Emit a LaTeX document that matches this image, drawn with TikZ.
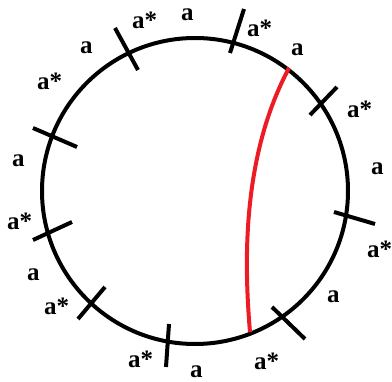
\documentclass[tikz,border=0pt]{standalone}
\usepackage{fontspec}
\setmainfont{Liberation Serif}
\definecolor{myred}{RGB}{237,28,36}
\begin{document}
\begin{tikzpicture}[x=1pt,y=-1pt,
  ring/.style={line width=4pt,draw=black},
  tickmark/.style={line width=4pt,draw=black},
  chord/.style={line width=4pt,draw=myred},
  lbl/.style={anchor=base west,inner sep=0pt,font=\fontsize{25}{25}\selectfont\bfseries}]
\useasboundingbox (0,0) rectangle (392,382);
% circle
\coordinate (c) at (195,191);
\draw[ring] (c) circle[radius=153];
% ticks
\coordinate (t1a) at (115,28);   \coordinate (t1b) at (138,70);
\coordinate (t2a) at (33,128);   \coordinate (t2b) at (77,147);
\coordinate (t3a) at (244,9);    \coordinate (t3b) at (230,53);
\coordinate (t4a) at (337,87);   \coordinate (t4b) at (310,115);
\coordinate (t5a) at (334,212);  \coordinate (t5b) at (375,224);
\coordinate (t6a) at (272,307);  \coordinate (t6b) at (305,339);
\coordinate (t7a) at (169,324);  \coordinate (t7b) at (166,367);
\coordinate (t8a) at (105,287);  \coordinate (t8b) at (78,319);
\coordinate (t9a) at (72,222);   \coordinate (t9b) at (33,240);
\foreach \i in {1,...,9} \draw[tickmark] (t\i a) -- (t\i b);
% red chord
\coordinate (ra) at (289,68);
\coordinate (rb) at (250,332);
\draw[chord] (ra) .. controls (242,156) and (244,262) .. (rb);
% labels
\node[lbl] (l1)  at (181,20.5) {a};
\node[lbl] (l2)  at (247,37)   {a*};
\node[lbl] (l3)  at (291,56)   {a};
\node[lbl] (l4)  at (347,118)  {a*};
\node[lbl] (l5)  at (371,175)  {a};
\node[lbl] (l6)  at (367,258)  {a*};
\node[lbl] (l7)  at (327,303)  {a};
\node[lbl] (l8)  at (254,370)  {a*};
\node[lbl] (l9)  at (190,378)  {a};
\node[lbl] (l10) at (128,368)  {a*};
\node[lbl] (l11) at (44,315)   {a*};
\node[lbl] (l12) at (27,281)   {a};
\node[lbl] (l13) at (7,230)    {a*};
\node[lbl] (l14) at (12,167)   {a};
\node[lbl] (l15) at (37,90)    {a*};
\node[lbl] (l16) at (80,54)    {a};
\node[lbl] (l17) at (132,29)   {a*};
\end{tikzpicture}
\end{document}
